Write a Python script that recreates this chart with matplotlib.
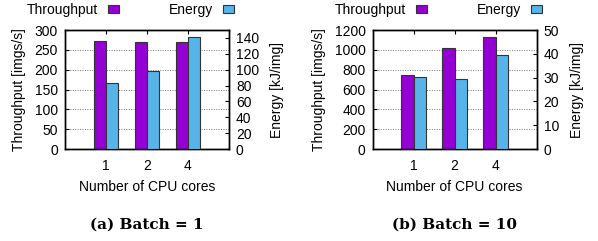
import numpy as np
import matplotlib.pyplot as plt
from matplotlib.ticker import MultipleLocator

# dados
cores = ['1', '2', '4']
thr_b1 = [273, 271, 269]
energy_b1 = [83.5, 98.5, 141.5]
thr_b10 = [746, 1015, 1126]
energy_b10 = [30.4, 29.4, 39.4]

roxo = '#9400D3'
azul = '#56B4E9'

plt.rcParams['font.family'] = 'Liberation Sans'
plt.rcParams['font.size'] = 10

fig = plt.figure(figsize=(5.98, 2.41), dpi=100)


def painel(left, thr, energy, thr_max, thr_step, en_max, en_step, legenda):
    ax = fig.add_axes([left, 0.3817, 0.2742, 0.4938])
    x = np.arange(1, len(cores) + 1)
    w = 0.3
    b1 = ax.bar(x - w / 2, thr, w, color=roxo, edgecolor='#333333', linewidth=0.8, zorder=3)
    ax2 = ax.twinx()
    b2 = ax2.bar(x + w / 2, energy, w, color=azul, edgecolor='#333333', linewidth=0.8, zorder=3)
    ax.set_xlim(0, 4)
    ax.set_ylim(0, thr_max)
    ax2.set_ylim(0, en_max)
    ax.yaxis.set_major_locator(MultipleLocator(thr_step))
    ax2.yaxis.set_major_locator(MultipleLocator(en_step))
    ax.set_xticks(x)
    ax.set_xticklabels(cores)
    ax.tick_params(axis='y', direction='in', length=3, pad=5)
    ax.tick_params(axis='x', direction='in', length=3, top=True, pad=7)
    ax2.tick_params(axis='y', direction='in', length=3, pad=5)
    ax.yaxis.grid(True, linestyle=(0, (1, 1.5)), color='#777777', linewidth=0.7, zorder=0)
    ax.set_axisbelow(True)
    for a in (ax, ax2):
        for s in a.spines.values():
            s.set_linewidth(1.0)
    ax.set_ylabel('Throughput [imgs/s]', labelpad=6)
    ax2.set_ylabel('Energy [kJ/img]', labelpad=8)
    ax.set_xlabel('Number of CPU cores', labelpad=5)
    ax.legend([b1, b2], ['Throughput', 'Energy'], ncol=2, markerfirst=False, frameon=False,
              loc='lower center', bbox_to_anchor=(0.40, 1.06), handlelength=0.8, handleheight=0.5,
              columnspacing=3.6, handletextpad=0.7, borderaxespad=0)
    fig.text(left + 0.2742 / 2, 0.068, legenda, ha='center', va='center',
             family='DejaVu Serif', weight='bold', fontsize=11)
    return ax


painel(0.1087, thr_b1, energy_b1, 300, 50, 150, 20, '(a) Batch = 1')
painel(0.6232, thr_b10, energy_b10, 1200, 200, 50, 10, '(b) Batch = 10')

plt.savefig('out.png', dpi=100)
